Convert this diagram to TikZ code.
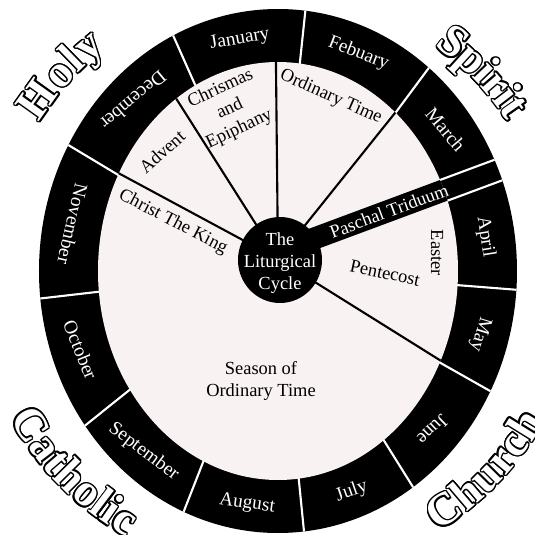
\documentclass[tikz,border=0pt]{standalone}
\usepackage{fontspec}
\setmainfont{Liberation Serif}
\usepackage{contour}
\contourlength{0.8pt}

\definecolor{seasonfill}{RGB}{248,242,242}
\newcommand\outl[1]{\textcolor{white}{\contour{black}{#1}}}

\begin{document}
\begin{tikzpicture}[
        x=0.02cm, y=0.02cm,
        monthlabel/.style={
            text=white,
            inner sep=0pt,
            font=\fontsize{11}{13}\selectfont
        },
        seasonlabel/.style={
            align=center,
            inner sep=0pt,
            font=\fontsize{10.5}{12.6}\selectfont
        },
        cornerletter/.style={
            anchor=base,
            inner sep=0pt,
            font=\fontsize{26}{26}\selectfont\bfseries
        },
        spokeline/.style={line width=1.2pt},
        monthcut/.style={white, line width=1.2pt}
    ]
    \useasboundingbox (-278,-264) rectangle (257,271);

    % ring of months
    \fill (0,0) ellipse [x radius=239, y radius=262];
    \begin{scope}
        \clip (0,0) ellipse [x radius=239, y radius=262];
        \foreach \a in {149,114,84,53.4,-4.5,-29.5,-58,-84.3,-111.4,-141.3,186.6}
            \draw[monthcut] (0,0) -- (\a:300);
        \draw[monthcut, shift={(0,19)}, rotate=20.4] (0,11) -- (300,11) (0,-11) -- (300,-11);
    \end{scope}
    \foreach \m/\t/\r in {January/100.5/10, Febuary/67.4/-21, March/36.9/-50,
            April/8.3/-81, May/-15.6/-107, June/-42.4/-136, July/-69.4/19,
            August/-98.5/-8, September/-129.9/-37, October/-160.5/-68,
            November/168.5/-103, December/133.6/220}
        \node[monthlabel, rotate=\r] (\m) at ({209.5*cos(\t)},{235.5*sin(\t)}) {\m};

    % seasons
    \fill[seasonfill] (0,0) ellipse [x radius=180, y radius=209];
    \begin{scope}
        \clip (0,0) ellipse [x radius=180, y radius=209];
        \fill[shift={(0,19)}, rotate=20.4] (0,-11) rectangle (300,11);
        \foreach \a in {151.7,122.4,90.6,51.3,-32}
            \draw[spokeline] (0,12) -- ++(\a:300);
    \end{scope}
    \fill (2,11) ellipse [x radius=42, y radius=43];

    \node[seasonlabel, text=white] (hub) at (2,8) {The\\Liturgical\\Cycle};
    \node[seasonlabel, rotate=-27.5] (king) at (-105,49) {Christ The King};
    \node[seasonlabel, rotate=42] (advent) at (-116,119) {Advent};
    \node[seasonlabel, rotate=25] (christmas) at (-48,162) {Chrismas\\and\\Epiphany};
    \node[seasonlabel, rotate=-24] (ordinary) at (53,174) {Ordinary Time};
    \node[seasonlabel, text=white, rotate=20.4] (triduum) at (111,60) {Paschal Triduum};
    \node[seasonlabel, rotate=-90] (easter) at (159,18) {Easter};
    \node[seasonlabel, rotate=-12] (pentecost) at (107,-2) {Pentecost};
    \node[seasonlabel] (summer) at (-17,-110) {Season of\\Ordinary Time};

    % words round the wheel (Holy, Spirit above; Catholic, Church below)
    \foreach \ch/\a/\r [count=\i] in {H/144.5/281, o/138.0/281, l/134.1/281, y/130.1/281,
            S/52.5/274, p/47.6/274, i/43.9/274, r/40.6/274, i/37.4/274, t/34.7/274}
        \node[cornerletter, rotate=\a-90] (top\i) at (\a:\r) {\outl{\ch}};
    \foreach \ch/\a [count=\i] in {C/-148.2, a/-142.8, t/-139.2, h/-135.3, o/-130.6,
            l/-127.2, i/-124.8, c/-121.6,
            C/-55.3, h/-49.6, u/-44.7, r/-40.2, c/-36.3, h/-31.8}
        \node[cornerletter, rotate=\a+90] (bottom\i) at (\a:306) {\outl{\ch}};
\end{tikzpicture}
\end{document}
